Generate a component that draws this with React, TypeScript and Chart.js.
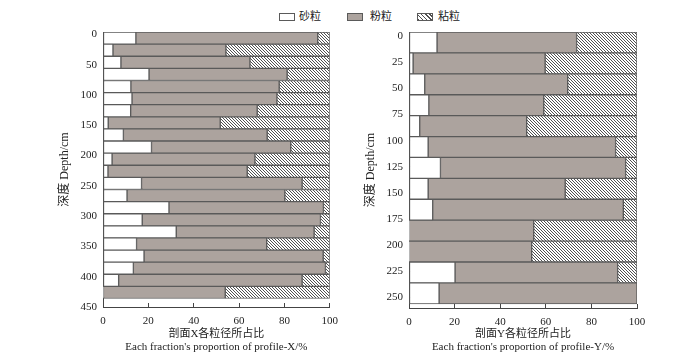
import React, { useEffect, useRef } from "react";
import { Chart, registerables } from "chart.js";

Chart.register(...registerables);

// ---------- data ----------
const seriesNames = ["砂粒", "粉粒", "粘粒"];

// Profile X (depth, cm – layer midpoints)
const depthX = [6, 26, 46, 66, 86, 106, 126, 146, 166, 186, 206, 226, 246, 266, 286, 306, 326, 346, 366, 386, 406, 426];
const sandX = [14.5, 4.4, 7.9, 20.3, 12.3, 12.8, 12.2, 2.3, 9.0, 21.4, 4.0, 2.2, 17.0, 10.6, 29.1, 17.3, 32.3, 14.8, 18.1, 13.4, 6.9, 0.2];
const siltX = [80.2, 49.8, 56.9, 60.9, 65.4, 63.9, 55.8, 49.4, 63.4, 61.4, 63.0, 61.4, 70.8, 69.6, 68.1, 78.6, 60.8, 57.4, 79.0, 84.7, 80.9, 53.7];
const clayX = [5.3, 45.8, 35.2, 18.8, 22.3, 23.3, 32.0, 48.3, 27.6, 17.2, 33.0, 36.4, 12.2, 19.8, 2.8, 4.1, 6.9, 27.8, 2.9, 1.9, 12.2, 46.1];

// Profile Y
const depthY = [6, 26, 46, 66, 86, 106, 126, 146, 166, 186, 206, 226, 246];
const sandY = [12.3, 1.8, 6.9, 8.7, 4.7, 8.4, 13.8, 8.4, 10.4, 0.1, 0.1, 20.2, 13.2];
const siltY = [61.2, 57.9, 62.7, 50.4, 46.9, 82.2, 81.2, 60.1, 83.6, 54.6, 53.7, 71.3, 86.8];
const clayY = [26.5, 40.3, 30.4, 40.9, 48.4, 9.4, 5.0, 31.5, 6.0, 45.3, 46.2, 8.5, 0.0];

// tick labels
const xTicks = [0, 20, 40, 60, 80, 100];
const yTicksX = [0, 50, 100, 150, 200, 250, 300, 350, 400, 450];
const yTicksY = [0, 25, 50, 75, 100, 125, 150, 175, 200, 225, 250];

// ---------- styles ----------
const FONT = "'Liberation Serif', 'Noto Sans CJK SC', serif";
const TEXT = "#222";
const AXIS = "#444";
const GRAY = "#aca39e";
const EDGE = "#5a5a5a";

function hatchPattern(): CanvasPattern | string {
  const c = document.createElement("canvas");
  c.width = 3;
  c.height = 3;
  const g = c.getContext("2d");
  if (!g) return "#ccc";
  g.fillStyle = "#fff";
  g.fillRect(0, 0, 3, 3);
  g.fillStyle = "#505050";
  for (let i = 0; i < 3; i++) g.fillRect(i, i, 1, 1);
  const p = g.createPattern(c, "repeat");
  return p || "#ccc";
}

type Params = {
  depth: number[];
  sand: number[];
  silt: number[];
  clay: number[];
  yMax: number;
  yTicks: number[];
  yWidth: number;
  xHeight: number;
  padRight: number;
  yTitlePad: number;
  xTitle: string[];
};

function buildConfig(p: Params): any {
  const hatch = hatchPattern();
  const ds = (label: string, vals: number[], bg: any) => ({
    label,
    data: p.depth.map((d, i) => ({ y: d, x: vals[i] })),
    backgroundColor: bg,
    borderColor: EDGE,
    borderWidth: 1,
    borderSkipped: false,
    barPercentage: 1,
    categoryPercentage: 1,
  });
  return {
    type: "bar",
    data: {
      datasets: [
        ds(seriesNames[0], p.sand, "#ffffff"),
        ds(seriesNames[1], p.silt, GRAY),
        ds(seriesNames[2], p.clay, hatch),
      ],
    },
    options: {
      indexAxis: "y",
      responsive: false,
      animation: false,
      events: [],
      layout: { padding: { top: 32, right: p.padRight, bottom: 0, left: 0 } },
      plugins: { legend: { display: false }, tooltip: { enabled: false } },
      scales: {
        x: {
          type: "linear",
          position: "bottom",
          min: 0,
          max: 100,
          stacked: true,
          z: 1,
          afterBuildTicks: (s: any) => {
            s.ticks = xTicks.map((v) => ({ value: v }));
          },
          afterFit: (s: any) => {
            s.height = p.xHeight;
          },
          grid: { drawOnChartArea: false, tickLength: -4, color: AXIS, lineWidth: 1 },
          border: { display: true, color: AXIS, width: 1 },
          ticks: { padding: 12, color: TEXT, font: { family: FONT, size: 11 }, maxRotation: 0 },
          title: {
            display: true,
            text: p.xTitle,
            color: TEXT,
            font: { family: FONT, size: 11 },
            padding: { top: 0, bottom: 8 },
          },
        },
        y: {
          type: "linear",
          reverse: true,
          min: -4,
          max: p.yMax,
          stacked: true,
          offset: false,
          z: 1,
          afterBuildTicks: (s: any) => {
            s.ticks = p.yTicks.map((v) => ({ value: v }));
          },
          afterFit: (s: any) => {
            s.width = p.yWidth;
          },
          grid: { drawOnChartArea: false, offset: false, tickLength: -4, color: AXIS, lineWidth: 1 },
          border: { display: true, color: AXIS, width: 1 },
          ticks: { padding: 10, color: TEXT, font: { family: FONT, size: 11 } },
          title: {
            display: true,
            text: "深度 Depth/cm",
            color: TEXT,
            font: { family: FONT, size: 12 },
            padding: { top: p.yTitlePad, bottom: 0 },
          },
        },
      },
    },
  };
}

function BarPanel({ params, left }: { params: Params; left: number }) {
  const ref = useRef<HTMLCanvasElement | null>(null);
  useEffect(() => {
    if (!ref.current) return;
    const chart = new Chart(ref.current, buildConfig(params));
    return () => chart.destroy();
  }, []);
  return (
    <canvas
      ref={ref}
      width={350}
      height={362}
      style={{ position: "absolute", left, top: 0, width: 350, height: 362 }}
    />
  );
}

function LegendItem({ x, textX, label, bg }: { x: number; textX: number; label: string; bg: string }) {
  return (
    <>
      <div
        style={{
          position: "absolute",
          left: x,
          top: 13,
          width: 14,
          height: 6,
          border: `1px solid ${EDGE}`,
          background: bg,
        }}
      />
      <div
        style={{
          position: "absolute",
          left: textX,
          top: 8,
          fontFamily: FONT,
          fontSize: 11,
          lineHeight: "16px",
          color: TEXT,
          whiteSpace: "nowrap",
        }}
      >
        {label}
      </div>
    </>
  );
}

export default function App() {
  const left: Params = {
    depth: depthX,
    sand: sandX,
    silt: siltX,
    clay: clayX,
    yMax: 450,
    yTicks: yTicksX,
    yWidth: 103,
    xHeight: 55,
    padRight: 19,
    yTitlePad: 58,
    xTitle: ["剖面X各粒径所占比", "Each fraction's proportion of profile-X/%"],
  };
  const right: Params = {
    depth: depthY,
    sand: sandY,
    silt: siltY,
    clay: clayY,
    yMax: 260,
    yTicks: yTicksY,
    yWidth: 59,
    xHeight: 54,
    padRight: 63,
    yTitlePad: 14,
    xTitle: ["剖面Y各粒径所占比", "Each fraction's proportion of profile-Y/%"],
  };
  const hatchCss = "repeating-linear-gradient(45deg, #505050 0px, #505050 1px, #ffffff 1px, #ffffff 3px)";
  return (
    <div style={{ position: "fixed", left: 0, top: 0, width: 700, height: 362, background: "#fff" }}>
      <LegendItem x={279} textX={299} label={seriesNames[0]} bg="#ffffff" />
      <LegendItem x={347} textX={370} label={seriesNames[1]} bg={GRAY} />
      <LegendItem x={417} textX={438} label={seriesNames[2]} bg={hatchCss} />
      <BarPanel params={left} left={0} />
      <BarPanel params={right} left={350} />
    </div>
  );
}
